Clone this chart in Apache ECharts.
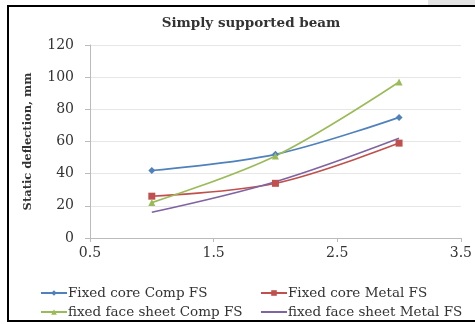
<!DOCTYPE html>
<html>
<head>
<meta charset="utf-8">
<script src="https://cdn.jsdelivr.net/npm/echarts@6/dist/echarts.min.js"></script>
<style>
  html, body { margin: 0; padding: 0; background: #fff; }
  #chart { width: 475px; height: 324px; }
</style>
</head>
<body>
<div id="chart"></div>
<script>
// Static deflection of a simply supported beam, four boundary/material cases
const xValues = [1, 2, 3];
const fixedCoreComp = [42, 52, 75];
const fixedCoreMetal = [26, 34, 59];
const fixedFaceComp = [22, 51, 97];
const fixedFaceMetal = [16, 35, 62];
const seriesNames = [
  'Fixed core Comp FS',
  'Fixed core Metal FS',
  'fixed face sheet Comp FS',
  'fixed face sheet Metal FS'
];

const serif = '"DejaVu Serif", "Liberation Serif", serif';
const pairs = (ys) => xValues.map((x, i) => [x, ys[i]]);

function makeSeries(name, data, color, symbol, size, markerVisible) {
  return {
    name: name,
    type: 'line',
    smooth: 0.35,
    data: pairs(data),
    symbol: symbol,
    symbolSize: size,
    showSymbol: markerVisible,
    lineStyle: { color: color, width: 1.6 },
    itemStyle: { color: color },
    emphasis: { disabled: true }
  };
}

function legendItem(name, left, top, hideMarker) {
  const item = {
    data: [name],
    left: left,
    top: top,
    itemWidth: 26,
    itemHeight: 7,
    padding: 0,
    textStyle: { fontFamily: serif, fontSize: 13.5, color: '#333', padding: [0, 0, 0, -4] }
  };
  if (hideMarker) {
    item.itemStyle = { color: 'transparent', borderWidth: 0, opacity: 0 };
  }
  return item;
}

const chart = echarts.init(document.getElementById('chart'));
chart.setOption({
  animation: false,
  backgroundColor: '#fff',
  title: {
    text: 'Simply supported beam',
    left: 246,
    textAlign: 'center',
    top: 11,
    textStyle: { fontFamily: serif, fontSize: 13.5, fontWeight: 'bold', color: '#333' }
  },
  grid: { left: 90, right: 12, top: 45, bottom: 86 },
  xAxis: {
    type: 'value',
    min: 0.5,
    max: 3.5,
    interval: 1,
    axisLine: { lineStyle: { color: '#bbb' } },
    axisTick: { show: true, length: 4, lineStyle: { color: '#bbb' } },
    splitLine: { show: false },
    axisLabel: { fontFamily: serif, fontSize: 14, color: '#333', margin: 8 }
  },
  yAxis: {
    type: 'value',
    min: 0,
    max: 120,
    interval: 20,
    name: 'Static deflection, mm',
    nameLocation: 'middle',
    nameGap: 56,
    nameTextStyle: { fontFamily: serif, fontSize: 11.5, fontWeight: 'bold', color: '#333' },
    axisLine: { show: true, lineStyle: { color: '#bbb' } },
    axisTick: { show: true, length: 5, lineStyle: { color: '#bbb' } },
    splitLine: { lineStyle: { color: '#e6e6e6' } },
    axisLabel: { fontFamily: serif, fontSize: 14, color: '#333', margin: 16 }
  },
  legend: [
    legendItem(seriesNames[0], 40, 286, false),
    legendItem(seriesNames[1], 260, 286, false),
    legendItem(seriesNames[2], 40, 305, false),
    legendItem(seriesNames[3], 260, 305, true)
  ],
  series: [
    makeSeries(seriesNames[0], fixedCoreComp, '#4F81BD', 'diamond', 7, true),
    makeSeries(seriesNames[1], fixedCoreMetal, '#C0504D', 'rect', 7, true),
    makeSeries(seriesNames[2], fixedFaceComp, '#9BBB59', 'triangle', 7, true),
    makeSeries(seriesNames[3], fixedFaceMetal, '#8064A2', 'circle', 4, false)
  ],
  graphic: [
    {
      type: 'rect',
      shape: { x: 8, y: 6, width: 480, height: 315 },
      style: { fill: 'none', stroke: '#000', lineWidth: 2 },
      silent: true
    },
    {
      type: 'rect',
      shape: { x: 428, y: 0, width: 47, height: 5 },
      style: { fill: '#e4e4e4' },
      silent: true
    }
  ]
});
</script>
</body>
</html>
